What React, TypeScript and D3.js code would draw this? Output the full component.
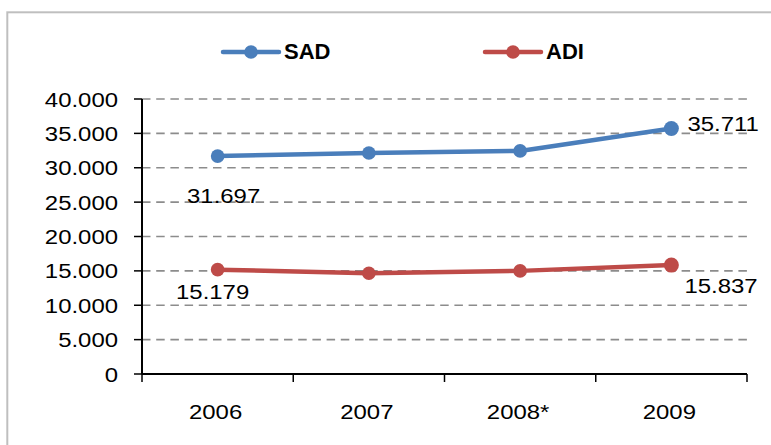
import React from "react";
import * as d3 from "d3";

const categories = ["2006", "2007", "2008*", "2009"];
const sadValues = [31697, 32150, 32450, 35711];
const adiValues = [15179, 14650, 15000, 15837];
const yTicks = [0, 5000, 10000, 15000, 20000, 25000, 30000, 35000, 40000];
const seriesNames = ["SAD", "ADI"];
const seriesColors = ["#4A7EBB", "#BE4B48"];

const W = 771;
const H = 445;
const plot = { left: 142, right: 747, top: 99, bottom: 374 };
const SX = 1.14;
const FONT = "'Liberation Sans', Arial, sans-serif";

const locale = d3.formatLocale({ decimal: ",", thousands: ".", grouping: [3], currency: ["", ""] });
const fmt = locale.format(",d");

// label placements (which point, offset, anchor)
const labelSpecs = [
  { s: 0, i: 0, dx: 6, dy: 47, anchor: "middle" },
  { s: 1, i: 0, dx: -5, dy: 29, anchor: "middle" },
  { s: 0, i: 3, dx: 16, dy: 3, anchor: "start" },
  { s: 1, i: 3, dx: 13, dy: 28, anchor: "start" },
];

export default function App() {
  const x = d3.scaleBand<string>().domain(categories).range([plot.left, plot.right]).padding(0);
  const y = d3.scaleLinear().domain([0, 40000]).range([plot.bottom, plot.top]);
  const cx = (c: string) => (x(c) as number) + x.bandwidth() / 2;
  const series = [sadValues, adiValues];
  const line = d3
    .line<number>()
    .x((_, i) => cx(categories[i]))
    .y((d) => y(d));
  const boundaries = [...categories.map((c) => x(c) as number), plot.right];

  const legendX = [223, 485];

  return (
    <svg width={W} height={H} style={{ position: "absolute", left: 0, top: 0, background: "#fff" }} fontFamily={FONT}>
      <rect x={0} y={0} width={W} height={H} fill="#fff" />
      <rect x={7.3} y={12.3} width={W + 20} height={H + 20} fill="none" stroke="#BFBFBF" strokeWidth={2} />

      {/* gridlines */}
      {yTicks.filter((t) => t > 0).map((t) => (
        <line key={t} x1={plot.left} x2={plot.right} y1={y(t)} y2={y(t)} stroke="#8C8C8C" strokeWidth={1.6} strokeDasharray="8.5,5.7" />
      ))}

      {/* y axis */}
      <line x1={plot.left} x2={plot.left} y1={plot.top} y2={plot.bottom} stroke="#000" strokeWidth={2} />
      {yTicks.map((t) => (
        <g key={t}>
          <line x1={plot.left - 8} x2={plot.left} y1={y(t)} y2={y(t)} stroke="#000" strokeWidth={1.5} />
          <text transform={`translate(${118},${y(t) + 7.5}) scale(${SX},1)`} textAnchor="end" fontSize={21} fill="#000">
            {t === 0 ? "0" : fmt(t)}
          </text>
        </g>
      ))}

      {/* x axis */}
      <line x1={plot.left} x2={plot.right} y1={plot.bottom} y2={plot.bottom} stroke="#000" strokeWidth={2} />
      {boundaries.map((b, i) => (
        <line key={i} x1={b} x2={b} y1={plot.bottom} y2={plot.bottom + 8} stroke="#000" strokeWidth={1.5} />
      ))}
      {categories.map((c) => (
        <text key={c} transform={`translate(${cx(c) - 2},${419.3}) scale(${SX},1)`} textAnchor="middle" fontSize={21} fill="#000">
          {c}
        </text>
      ))}

      {/* series */}
      {series.map((vals, s) => (
        <g key={s}>
          <path d={line(vals) as string} fill="none" stroke={seriesColors[s]} strokeWidth={4.5} strokeLinejoin="round" />
          {vals.map((v, i) => (
            <circle key={i} cx={cx(categories[i])} cy={y(v)} r={i === 3 ? 7.5 : 6.8} fill={seriesColors[s]} />
          ))}
        </g>
      ))}

      {/* data labels */}
      {labelSpecs.map((l, k) => {
        const v = series[l.s][l.i];
        return (
          <text
            key={k}
            transform={`translate(${cx(categories[l.i]) + l.dx},${y(v) + l.dy}) scale(${SX},1)`}
            textAnchor={l.anchor as any}
            fontSize={21}
            fill="#000"
          >
            {fmt(v)}
          </text>
        );
      })}

      {/* legend */}
      {seriesNames.map((n, s) => (
        <g key={n}>
          <line x1={legendX[s]} x2={legendX[s] + 56} y1={52} y2={52} stroke={seriesColors[s]} strokeWidth={4.5} strokeLinecap="round" />
          <circle cx={legendX[s] + 28} cy={52} r={6.8} fill={seriesColors[s]} />
          <text x={legendX[s] + 61} y={59.3} fontSize={22} fontWeight="bold" fill="#000">
            {n}
          </text>
        </g>
      ))}
    </svg>
  );
}
